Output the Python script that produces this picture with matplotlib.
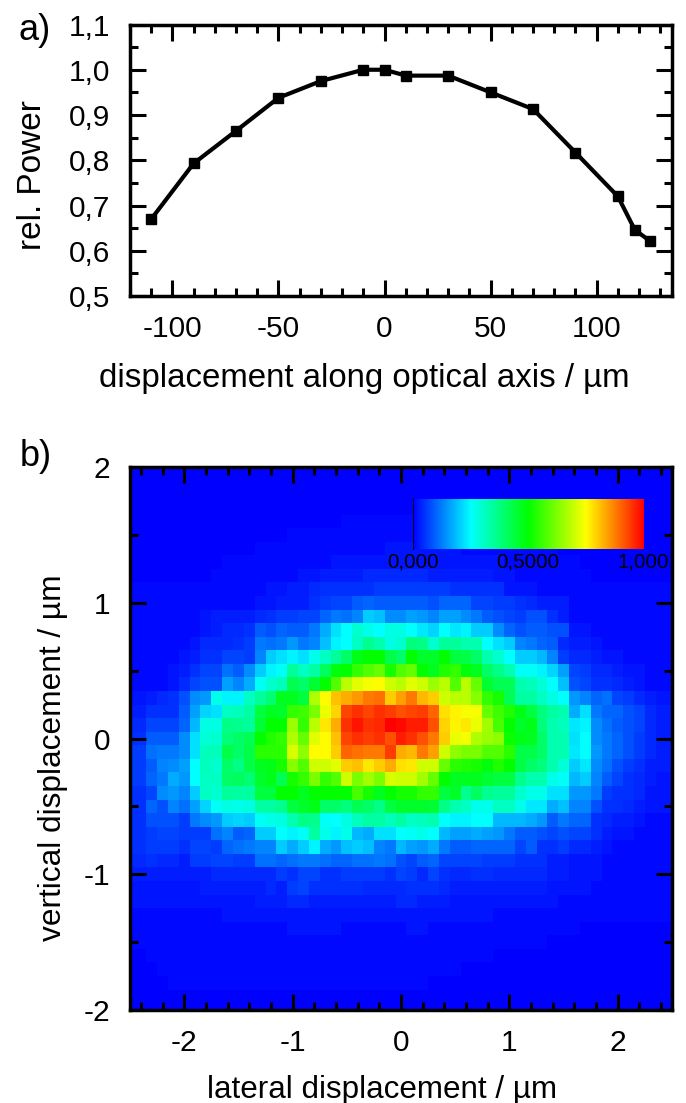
import numpy as np
import matplotlib
matplotlib.use("Agg")
import matplotlib.pyplot as plt
from matplotlib.colors import LinearSegmentedColormap
from matplotlib.ticker import MultipleLocator, FuncFormatter

plt.rcParams['font.family'] = ['Liberation Sans', 'DejaVu Sans']
plt.rcParams['axes.unicode_minus'] = False

W = 686.0
H = 1103.0

# panel a
Displacement = [-110, -90, -70, -50, -30, -10, 0, 10, 30, 50, 70, 90, 110, 118, 125]
RelPower = [0.67, 0.793, 0.865, 0.938, 0.975, 1.0, 1.0, 0.987, 0.987, 0.95, 0.913, 0.817, 0.72, 0.646, 0.622]
PowerTicks = [0.5, 0.6, 0.7, 0.8, 0.9, 1.0, 1.1]
DisplacementTicks = [-100, -50, 0, 50, 100]

# panel b, percent of maximum, rows from +2.0 down to -2.0 in steps of 0.1,
# columns from -2.5 to 2.5 in steps of 0.1
Lateral = [i / 10.0 for i in range(-25, 26)]
Vertical = [i / 10.0 for i in range(20, -21, -1)]
Intensity = [
    [0,0,0,0,0,0,0,0,0,0,0,0,0,0,0,0,0,0,0,0,0,0,0, 0,0,0,0,0,0,0,0,0,0,0,0,0,0,0,0,0,0,0,0,0,0,0,0,0,0,0,0],
    [0,0,0,0,0,0,0,0,0,0,0,0,0,0,0,0,0,0,0,0,0,0,0, 0,0,0,0,0,0,0,0,0,0,0,0,0,0,0,0,0,0,0,0,0,0,0,0,0,0,0,0],
    [0,0,0,0,0,0,0,0,0,0,0,0,0,0,0,0,0,0,0,0,0,0,0, 0,0,0,0,0,0,0,0,0,0,0,0,0,0,0,0,0,0,0,0,0,0,0,0,0,0,0,0],
    [0,0,0,0,0,0,0,0,0,0,0,0,0,0,0,0,0,0,0,0,0,0,0, 0,0,0,0,0,0,0,0,0,0,0,0,0,0,0,0,0,0,0,0,0,0,0,0,0,0,0,0],
    [0,0,0,0,0,0,0,0,0,0,0,0,0,0,0,0,0,0,0,0,1,1,1, 1,1,1,1,1,1,1,1,1,1,1,1,0,0,0,0,0,0,0,0,0,0,0,0,0,0,0,0],
    [0,0,0,0,0,0,0,0,0,0,0,0,0,0,0,1,1,1,1,1,1,1,1, 1,1,1,1,1,1,1,1,1,1,1,1,1,1,1,0,0,0,0,0,0,0,0,0,0,0,0,0],
    [0,0,0,0,0,0,0,0,0,0,0,0,1,1,1,1,1,1,1,1,1,1,1, 1,2,2,2,2,2,2,2,1,1,1,1,1,1,1,1,1,0,0,0,0,0,0,0,0,0,0,0],
    [0,0,0,0,0,0,0,0,0,1,1,1,1,1,1,1,1,1,1,2,2,2,2, 2,2,2,2,2,2,2,2,2,2,2,2,1,1,1,1,1,1,1,0,0,0,0,0,0,0,0,0],
    [0,0,0,0,0,0,0,0,1,1,1,1,1,1,1,1,2,2,3,3,3,3,4, 4,4,4,4,4,3,3,3,3,3,3,2,2,1,1,1,1,1,1,1,0,0,0,0,0,0,0,0],
    [1,1,1,1,1,1,1,1,1,1,1,1,1,2,2,3,3,4,5,5,5,5,5, 6,6,6,6,6,6,6,5,5,5,5,5,2,2,2,1,1,1,1,1,1,1,1,1,1,1,1,1],
    [1,1,1,1,1,1,1,1,1,1,1,1,2,2,3,3,3,5,6,7,7,9,10, 9,9,9,9,9,8,10,10,10,7,7,6,6,5,4,3,3,3,1,1,1,1,1,1,1,1,1,1],
    [1,1,1,1,1,1,1,2,3,3,3,3,4,5,6,6,7,7,10,12,11,13,20, 19,14,14,16,15,13,16,16,14,12,9,8,7,6,8,8,5,3,1,1,1,1,1,1,1,1,1,1],
    [1,1,1,1,1,1,1,2,3,4,4,5,9,8,10,9,9,12,17,22,25,30,27, 25,28,28,25,23,21,25,23,24,20,20,14,10,8,9,9,8,8,2,2,1,1,1,1,1,1,1,1],
    [1,1,1,1,1,1,2,4,4,4,5,6,12,11,12,15,12,13,19,24,25,31,36, 33,28,30,38,37,30,35,35,33,33,25,22,20,13,12,10,9,4,3,3,2,1,1,1,1,1,1,1],
    [1,1,1,1,1,2,3,5,5,7,7,6,13,20,22,24,22,27,31,35,40,48,50, 50,43,40,50,46,46,50,44,43,40,33,30,25,20,20,18,13,6,4,4,3,2,2,1,1,1,1,1],
    [1,1,1,1,2,3,5,7,7,11,9,14,20,24,26,35,31,34,41,49,50,55,58, 60,52,58,60,50,47,53,55,49,47,40,37,33,26,26,24,21,16,7,6,4,4,3,2,2,1,1,1],
    [1,1,1,1,2,4,7,8,8,16,13,17,26,30,32,42,40,45,50,58,68,72,74, 75,70,68,72,70,65,68,58,68,60,45,42,42,33,32,29,25,19,8,7,5,5,4,3,2,1,1,1],
    [2,2,3,4,5,8,14,15,27,24,24,31,35,39,47,47,44,67,75,81,83,85,88, 89,80,84,88,82,80,70,68,68,63,55,52,42,34,34,31,28,25,15,13,10,11,7,6,4,3,2,2],
    [3,3,5,5,5,9,16,21,22,31,32,34,44,47,46,55,56,62,73,79,93,95,93, 95,94,92,93,94,90,78,76,74,74,60,56,53,48,44,38,34,33,17,22,12,10,10,8,7,4,3,3],
    [4,4,7,7,7,10,18,28,28,37,36,35,45,50,50,65,55,68,77,83,95,98,95, 96,100,99,97,97,92,79,76,77,73,66,57,50,46,48,38,33,32,23,24,14,11,9,8,7,4,3,3],
    [5,5,9,9,9,14,22,29,30,38,40,42,50,53,55,67,60,72,75,81,93,95,94, 95,92,97,95,92,88,80,73,74,67,65,64,51,48,47,40,33,33,22,25,14,12,10,8,6,4,3,3],
    [6,6,11,12,12,14,22,32,32,43,40,43,54,54,54,71,64,75,75,80,90,89,88, 88,94,83,82,88,84,70,64,62,62,58,58,54,43,43,40,33,33,23,25,15,12,10,8,6,4,3,3],
    [6,6,9,13,14,16,25,32,30,40,37,43,47,48,52,63,58,70,70,72,80,81,77, 80,83,78,77,70,70,60,54,53,52,49,53,50,43,40,38,33,29,20,23,14,11,8,6,5,3,3,3],
    [6,6,10,12,17,15,25,31,31,40,41,39,46,48,42,52,55,62,55,58,70,62,66, 62,71,70,70,66,60,50,47,47,47,45,44,44,36,33,33,27,26,18,20,13,9,7,5,4,3,2,2],
    [5,5,7,14,15,13,20,31,30,35,34,34,44,44,50,50,47,50,50,50,50,57,52, 47,50,52,52,55,55,44,46,36,41,36,35,35,30,27,27,22,22,15,15,12,6,5,5,4,2,2,2],
    [5,5,10,8,13,11,16,21,26,28,27,28,34,34,36,44,46,48,40,40,38,42,40, 37,44,46,46,46,45,37,33,31,27,27,31,31,27,23,23,17,19,13,13,8,5,5,4,3,2,2,2],
    [5,5,8,8,8,6,12,14,15,20,21,20,26,27,28,33,37,36,26,25,28,32,34, 34,32,34,31,32,33,25,24,24,25,25,18,18,18,17,15,9,12,10,10,5,4,3,3,2,1,1,1],
    [5,5,6,7,7,6,6,6,11,13,9,10,20,20,25,24,26,34,27,24,27,18,17, 22,22,25,26,27,25,18,16,16,17,16,15,12,9,9,8,7,8,7,7,5,3,2,2,1,1,1,1],
    [5,5,6,6,6,5,7,7,6,10,11,12,13,13,20,17,20,24,17,15,19,20,19, 13,12,18,16,15,17,12,9,9,10,10,10,10,7,9,5,5,6,4,4,3,2,1,1,1,1,1,1],
    [4,4,5,4,4,3,6,6,7,7,6,6,11,11,10,11,12,12,11,10,10,11,11, 12,11,8,7,9,10,7,7,7,7,6,6,6,5,5,5,3,3,2,2,2,1,1,1,1,1,1,1],
    [3,3,3,3,3,3,3,3,4,4,4,4,4,4,6,5,7,7,5,5,6,6,6, 6,5,7,6,4,7,5,4,4,5,5,4,4,4,4,4,3,3,2,2,2,1,1,1,1,1,1,1],
    [2,2,2,2,2,2,2,3,3,3,3,3,3,4,3,6,7,5,5,5,5,5,4, 4,4,4,5,5,5,4,3,3,3,3,3,3,3,3,3,2,2,2,2,1,1,1,1,1,1,1,1],
    [2,2,2,2,2,2,2,2,2,2,2,2,3,3,3,4,4,3,3,3,3,3,3, 3,3,4,4,3,3,3,2,2,2,2,2,2,2,2,2,2,1,1,1,1,1,1,1,1,1,1,1],
    [1,1,1,1,1,1,1,1,1,2,2,2,2,2,2,2,2,2,2,2,2,2,2, 2,2,2,2,2,2,2,2,2,2,2,1,1,1,1,1,1,1,1,1,1,1,1,1,1,1,1,1],
    [1,1,1,1,1,1,1,1,1,1,1,1,1,1,1,2,2,2,2,2,1,1,1, 1,1,1,2,2,1,1,1,1,1,1,1,1,1,1,1,1,1,1,0,0,0,0,0,0,0,0,0],
    [1,1,1,1,1,1,1,1,1,1,1,1,1,1,1,1,1,1,1,1,1,1,1, 1,1,1,1,1,1,1,1,1,1,1,1,1,1,1,1,0,0,0,0,0,0,0,0,0,0,0,0],
    [0,0,1,1,1,1,1,1,1,1,1,1,1,1,1,1,1,1,1,1,1,1,1, 1,1,1,1,1,1,1,1,1,1,1,0,0,0,0,0,0,0,0,0,0,0,0,0,0,0,0,0],
    [0,0,0,1,1,1,1,1,1,1,1,1,1,1,1,1,1,1,1,1,1,1,1, 1,1,1,1,1,1,1,1,0,0,0,0,0,0,0,0,0,0,0,0,0,0,0,0,0,0,0,0],
    [0,0,0,0,1,1,1,1,1,1,1,1,1,1,1,1,1,1,1,1,1,1,1, 1,1,1,1,1,0,0,0,0,0,0,0,0,0,0,0,0,0,0,0,0,0,0,0,0,0,0,0],
    [0,0,0,0,0,0,0,0,0,0,0,0,0,0,0,0,0,0,0,0,0,0,0, 0,0,0,0,0,0,0,0,0,0,0,0,0,0,0,0,0,0,0,0,0,0,0,0,0,0,0,0],
    [0,0,0,0,0,0,0,0,0,0,0,0,0,0,0,0,0,0,0,0,0,0,0, 0,0,0,0,0,0,0,0,0,0,0,0,0,0,0,0,0,0,0,0,0,0,0,0,0,0,0,0],
]
LateralTicks = [-2, -1, 0, 1, 2]
VerticalTicks = [-2, -1, 0, 1, 2]
BarLabels = ['0,000', '0,5000', '1,000']
BarValues = [0.0, 0.5, 1.0]
MapColors = ['#0000ff', '#00ffff', '#00ff00', '#ffff00', '#ff0000']


def pixel_axes(fig, left, top, right, bottom):
    return fig.add_axes([left / W, 1 - bottom / H, (right - left) / W, (bottom - top) / H])


def comma(value, pos):
    return '{0:.1f}'.format(value).replace('.', ',')


def style_axes(ax):
    for spine in ax.spines.values():
        spine.set_linewidth(2.5)
    ax.tick_params(which='major', direction='in', length=11.5, width=2.2, top=True, right=True, labelsize=21.5)
    ax.tick_params(which='minor', direction='in', length=5.8, width=2.2, top=True, right=True)
    ax.tick_params(axis='x', which='major', pad=14)
    ax.tick_params(axis='y', which='major', pad=14)


jetmap = LinearSegmentedColormap.from_list('bar', MapColors, N=256)

fig = plt.figure(figsize=(W / 100, H / 100), dpi=100)

ax1 = pixel_axes(fig, 130, 24.5, 672, 296)
ax1.plot(Displacement, RelPower, '-s', color='k', linewidth=3, markersize=7.5)
ax1.set_xlim(-120, 135.5)
ax1.set_ylim(0.5, 1.1)
ax1.set_xticks(DisplacementTicks)
ax1.set_yticks(PowerTicks)
ax1.xaxis.set_minor_locator(MultipleLocator(10))
ax1.yaxis.set_minor_locator(MultipleLocator(0.05))
ax1.yaxis.set_major_formatter(FuncFormatter(comma))
style_axes(ax1)

ax2 = pixel_axes(fig, 130, 467, 672, 1010)
field = np.array(Intensity) / 100.0
ax2.pcolormesh(Lateral, Vertical, field, cmap=jetmap, vmin=0, vmax=1, shading='nearest', antialiased=False)
ax2.set_xlim(-2.5, 2.5)
ax2.set_ylim(-2, 2)
ax2.set_xticks(LateralTicks)
ax2.set_yticks(VerticalTicks)
ax2.xaxis.set_minor_locator(MultipleLocator(0.2))
ax2.yaxis.set_minor_locator(MultipleLocator(0.5))
style_axes(ax2)

# small colour bar inside panel b
cax = pixel_axes(fig, 413, 498.5, 643.5, 549)
cax.imshow(np.linspace(0, 1, 256).reshape(1, -1), cmap=jetmap, aspect='auto', extent=[0, 1, 0, 1], vmin=0, vmax=1)
cax.patch.set_alpha(0)
cax.set_yticks([])
cax.set_xticks(BarValues)
cax.set_xticklabels(BarLabels, fontsize=14.8)
cax.tick_params(axis='x', length=0, pad=2.5)
for name in ['top', 'right', 'bottom']:
    cax.spines[name].set_visible(False)
cax.spines['left'].set_linewidth(0.7)

fig.text(364 / W, 1 - 378 / H, 'displacement along optical axis / \u00b5m', fontsize=23.8, ha='center', va='center')
fig.text(33 / W, 1 - 175 / H, 'rel. Power', fontsize=24, ha='center', va='center', rotation=90)
fig.text(53 / W, 1 - 758 / H, 'vertical displacement / \u00b5m', fontsize=22.8, ha='center', va='center', rotation=90)
fig.text(382 / W, 1 - 1090 / H, 'lateral displacement / \u00b5m', fontsize=22.6, ha='center', va='center')
fig.text(18 / W, 1 - 31 / H, 'a)', fontsize=26, ha='left', va='center')
fig.text(20 / W, 1 - 457 / H, 'b)', fontsize=26, ha='left', va='center')

fig.savefig('out.png', dpi=100)
